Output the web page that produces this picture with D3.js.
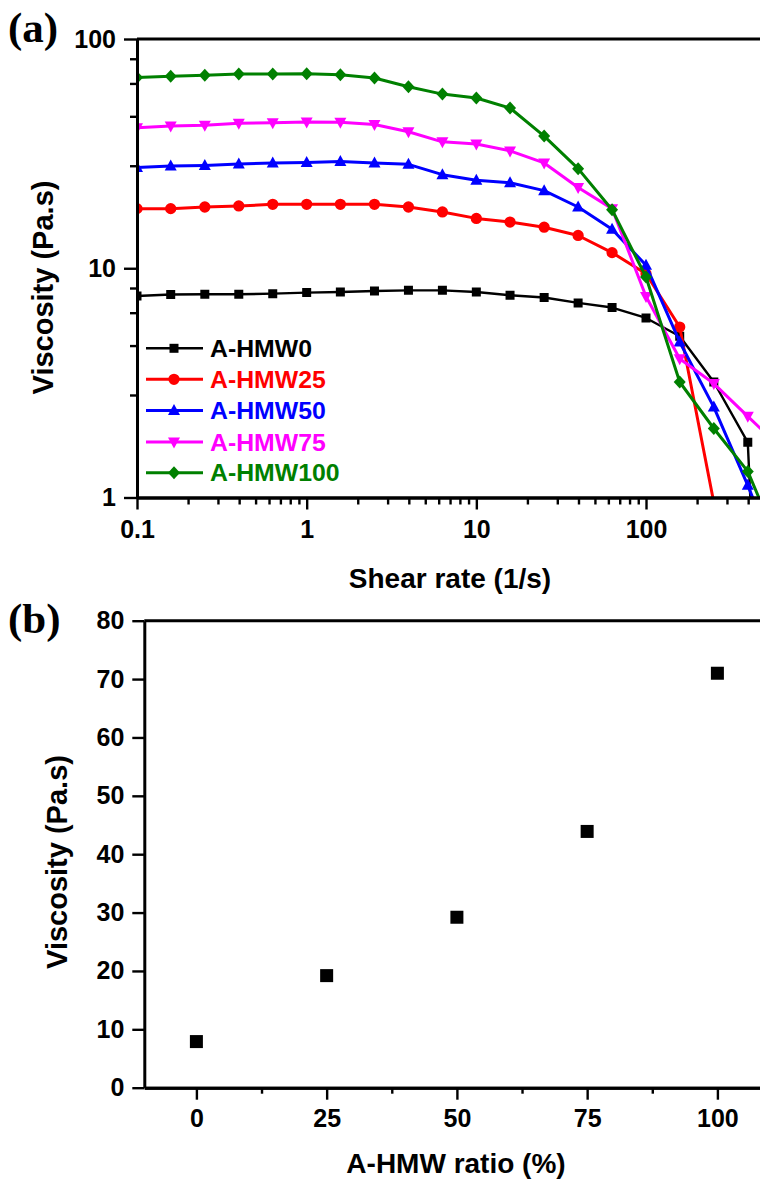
<!DOCTYPE html>
<html>
<head>
<meta charset="utf-8">
<script src="https://cdn.jsdelivr.net/npm/d3@7"></script>
<style>
  body { margin: 0; background: #fff; }
  svg text { font-family: "Liberation Sans", Arial, sans-serif; font-weight: bold; fill: #000; }
</style>
</head>
<body>
<svg id="fig" width="760" height="1181"></svg>
<script>
// ---- Panel (a): flow curves, viscosity vs shear rate ----
const shearRates = [0.1, 0.158, 0.251, 0.398, 0.631, 1, 1.58, 2.51, 3.98, 6.31,
                    10, 15.8, 25.1, 39.8, 63.1, 100, 158, 251, 398, 631];
const seriesNames  = ["A-HMW0", "A-HMW25", "A-HMW50", "A-HMW75", "A-HMW100"];
const seriesColors = ["#000000", "#ff0000", "#0000ff", "#ff00ff", "#008000"];
const seriesMarkers = ["square", "circle", "triangleUp", "triangleDown", "diamond"];

const viscHMW0   = [7.57, 7.68, 7.70, 7.70, 7.75, 7.83, 7.88, 7.96, 8.01, 8.01,
                    7.88, 7.62, 7.45, 7.06, 6.74, 6.07, 5.05, 3.19, 1.74, 0.001];
const viscHMW25  = [18.2, 18.2, 18.5, 18.7, 19.0, 19.0, 19.0, 19.0, 18.5, 17.6,
                    16.5, 15.9, 15.1, 13.9, 11.7, 9.46, 5.54, 0.95];
const viscHMW50  = [27.5, 27.9, 28.1, 28.5, 28.8, 28.9, 29.2, 28.8, 28.4, 25.6,
                    24.2, 23.6, 21.8, 18.5, 14.8, 10.3, 4.77, 2.48, 1.13, 0.48];
const viscHMW75  = [41.0, 41.7, 42.1, 42.9, 43.1, 43.4, 43.3, 42.4, 39.4, 35.6,
                    34.8, 32.5, 28.8, 22.5, 18.2, 7.53, 4.03, 3.14, 2.26, 1.63];
const viscHMW100 = [68.0, 68.8, 69.4, 70.3, 70.3, 70.5, 69.9, 67.6, 61.9, 57.5,
                    55.3, 50.0, 37.7, 27.2, 18.0, 9.16, 3.19, 2.00, 1.30, 0.58];
const seriesValues = [viscHMW0, viscHMW25, viscHMW50, viscHMW75, viscHMW100];

const xMajorA = [0.1, 1, 10, 100];
const xMinorA = [0.2,0.3,0.4,0.5,0.6,0.7,0.8,0.9, 2,3,4,5,6,7,8,9,
                 20,30,40,50,60,70,80,90, 200,300,400];
const yMajorA = [1, 10, 100];
const yMinorA = [2.8, 4.6, 6.4, 8.2, 28, 46, 64, 82];

// ---- Panel (b): viscosity vs A-HMW ratio ----
const ratioValues = [0, 25, 50, 75, 100];
const ratioViscosity = [7.9, 19.2, 29.2, 43.9, 71.0];
const xMajorB = [0, 25, 50, 75, 100];
const xMinorB = [12.5, 37.5, 62.5, 87.5];
const yMajorB = [0, 10, 20, 30, 40, 50, 60, 70, 80];

const svg = d3.select("#fig");
const W = 760;

function styleAxis(g, width) {
  g.select(".domain").attr("stroke", "#000").attr("stroke-width", width);
  g.selectAll(".tick line").attr("stroke", "#000").attr("stroke-width", 2.4);
  g.selectAll(".tick text").style("font-size", "25px");
}

function markerPath(type) {
  switch (type) {
    case "square": return "M-4.5,-4.5H4.5V4.5H-4.5Z";
    case "circle": return d3.symbol(d3.symbolCircle, 100)();
    case "triangleUp": return "M0,-6.5L6,4.5L-6,4.5Z";
    case "triangleDown": return "M0,6.5L6,-4.5L-6,-4.5Z";
    case "diamond": return "M0,-6.5L6,0L0,6.5L-6,0Z";
  }
}

// ===== Panel (a) =====
const xA = d3.scaleLog().domain([0.1, 500]).range([137, 764.6]);
const yA = d3.scaleLog().domain([1, 100]).range([497.5, 39]);

svg.append("defs").append("clipPath").attr("id", "clipA")
  .append("rect").attr("x", 137).attr("y", 39)
  .attr("width", W - 137).attr("height", 497.5 - 39);

const plotA = svg.append("g").attr("clip-path", "url(#clipA)");
const lineA = d3.line().x(d => xA(d[0])).y(d => yA(d[1]));

seriesValues.forEach((vals, i) => {
  const pts = vals.map((v, j) => [shearRates[j], v]);
  const g = plotA.append("g");
  g.append("path").attr("d", lineA(pts)).attr("fill", "none")
    .attr("stroke", seriesColors[i]).attr("stroke-width", i === 0 ? 2.4 : 3)
    .attr("stroke-linejoin", "round");
  g.selectAll("path.mk").data(pts).join("path").attr("class", "mk")
    .attr("d", markerPath(seriesMarkers[i]))
    .attr("transform", d => `translate(${xA(d[0])},${yA(d[1])})`)
    .attr("fill", seriesColors[i]);
});

// frame top line
svg.append("line").attr("x1", 137).attr("x2", W).attr("y1", 39).attr("y2", 39)
  .attr("stroke", "#000").attr("stroke-width", 3);

// bottom axis (a)
const gxA = svg.append("g").attr("transform", "translate(0,497.5)")
  .call(d3.axisBottom(xA).tickValues(xMajorA).tickSize(12).tickSizeOuter(0)
    .tickPadding(11).tickFormat(d => d3.format("~g")(d)));
styleAxis(gxA, 3);
const gxAm = svg.append("g").attr("transform", "translate(0,497.5)")
  .call(d3.axisBottom(xA).tickValues(xMinorA).tickSize(7).tickSizeOuter(0).tickFormat(""));
styleAxis(gxAm, 3);

// left axis (a)
const gyA = svg.append("g").attr("transform", "translate(137,0)")
  .call(d3.axisLeft(yA).tickValues(yMajorA).tickSize(13).tickSizeOuter(0)
    .tickPadding(8).tickFormat(d3.format("d")));
styleAxis(gyA, 3);
const gyAm = svg.append("g").attr("transform", "translate(137,0)")
  .call(d3.axisLeft(yA).tickValues(yMinorA).tickSize(7).tickSizeOuter(0).tickFormat(""));
styleAxis(gyAm, 3);

// axis titles (a)
svg.append("text").attr("x", 450).attr("y", 588).attr("text-anchor", "middle")
  .style("font-size", "28px").text("Shear rate (1/s)");
svg.append("text").attr("transform", "translate(53,287.5) rotate(-90)")
  .attr("text-anchor", "middle").style("font-size", "29px").text("Viscosity (Pa.s)");

// legend (a)
const legendRows = [348.3, 379.3, 410.5, 442, 472.7];
seriesNames.forEach((name, i) => {
  const y = legendRows[i];
  const g = svg.append("g");
  g.append("line").attr("x1", 146).attr("x2", 203).attr("y1", y).attr("y2", y)
    .attr("stroke", seriesColors[i]).attr("stroke-width", i === 0 ? 2.4 : 3);
  g.append("path").attr("d", markerPath(seriesMarkers[i]))
    .attr("transform", `translate(174,${y})`).attr("fill", seriesColors[i]);
  g.append("text").attr("x", 210).attr("y", y + 8.5)
    .style("font-size", "24.8px").style("fill", seriesColors[i]).text(name);
});

svg.append("text").attr("x", 8).attr("y", 42)
  .style("font-family", "'Liberation Serif', 'Times New Roman', serif")
  .style("font-size", "43px").text("(a)");

// ===== Panel (b) =====
const xB = d3.scaleLinear().domain([-10, 110]).range([144.3, 769.5]);
const yB = d3.scaleLinear().domain([0, 80]).range([1087.7, 620.7]);

svg.append("line").attr("x1", 144.3).attr("x2", W).attr("y1", 620.7).attr("y2", 620.7)
  .attr("stroke", "#000").attr("stroke-width", 3);

const gxB = svg.append("g").attr("transform", "translate(0,1087.7)")
  .call(d3.axisBottom(xB).tickValues(xMajorB).tickSize(12).tickSizeOuter(0).tickPadding(10));
styleAxis(gxB, 3);
const gxBm = svg.append("g").attr("transform", "translate(0,1087.7)")
  .call(d3.axisBottom(xB).tickValues(xMinorB).tickSize(6).tickSizeOuter(0).tickFormat(""));
styleAxis(gxBm, 3);

const gyB = svg.append("g").attr("transform", "translate(144.3,0)")
  .call(d3.axisLeft(yB).tickValues(yMajorB).tickSize(12).tickSizeOuter(0).tickPadding(8));
styleAxis(gyB, 3);

svg.append("g").selectAll("rect").data(ratioValues.map((r, i) => [r, ratioViscosity[i]]))
  .join("rect")
  .attr("x", d => xB(d[0]) - 6.5).attr("y", d => yB(d[1]) - 6.5)
  .attr("width", 13).attr("height", 13).attr("fill", "#000");

svg.append("text").attr("x", 456).attr("y", 1173).attr("text-anchor", "middle")
  .style("font-size", "28px").text("A-HMW ratio (%)");
svg.append("text").attr("transform", "translate(66.7,862) rotate(-90)")
  .attr("text-anchor", "middle").style("font-size", "29px").text("Viscosity (Pa.s)");

svg.append("text").attr("x", 8).attr("y", 633)
  .style("font-family", "'Liberation Serif', 'Times New Roman', serif")
  .style("font-size", "43px").text("(b)");
</script>
</body>
</html>
